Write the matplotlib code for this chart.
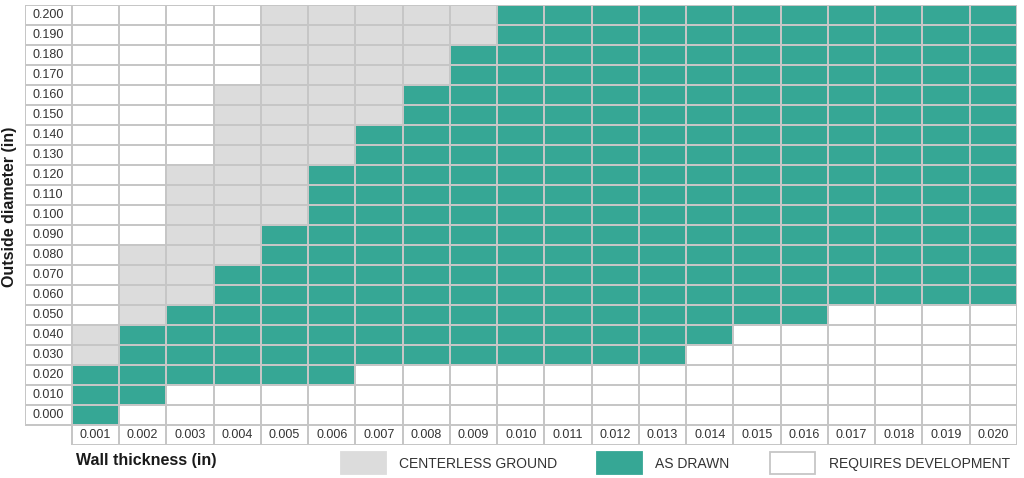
import numpy as np
import matplotlib
matplotlib.use("Agg")
import matplotlib.pyplot as plt
from matplotlib.colors import ListedColormap
from matplotlib.patches import Rectangle

plt.rcParams['font.family'] = ['Liberation Sans', 'DejaVu Sans']

# ---- data ----
wall_thickness = ["0.001", "0.002", "0.003", "0.004", "0.005", "0.006", "0.007",
                  "0.008", "0.009", "0.010", "0.011", "0.012", "0.013", "0.014",
                  "0.015", "0.016", "0.017", "0.018", "0.019", "0.020"]
outside_diameter = ["0.000", "0.010", "0.020", "0.030", "0.040", "0.050", "0.060",
                    "0.070", "0.080", "0.090", "0.100", "0.110", "0.120", "0.130",
                    "0.140", "0.150", "0.160", "0.170", "0.180", "0.190", "0.200"]
# per wall thickness: OD range produced as drawn, and top of centerless ground range
as_drawn_min_od = [0.000, 0.010, 0.020, 0.020, 0.020, 0.020, 0.030, 0.030, 0.030, 0.030,
                   0.030, 0.030, 0.030, 0.040, 0.050, 0.050, 0.060, 0.060, 0.060, 0.060]
as_drawn_max_od = [0.020, 0.040, 0.050, 0.070, 0.090, 0.120, 0.140, 0.160, 0.180, 0.200,
                   0.200, 0.200, 0.200, 0.200, 0.200, 0.200, 0.200, 0.200, 0.200, 0.200]
centerless_max_od = [0.040, 0.080, 0.120, 0.160, 0.200, 0.200, 0.200, 0.200, 0.200, 0.200,
                     0.200, 0.200, 0.200, 0.200, 0.200, 0.200, 0.200, 0.200, 0.200, 0.200]
categories = ["REQUIRES DEVELOPMENT", "CENTERLESS GROUND", "AS DRAWN"]
colors = ["#ffffff", "#dcdcdc", "#36a795"]
edge_color = "#c6c6c6"

# ---- build grid: 0 = requires development, 1 = centerless, 2 = as drawn ----
od_vals = np.array([float(v) for v in outside_diameter])
nc, nr = len(wall_thickness), len(outside_diameter)
grid = np.zeros((nr, nc), dtype=int)
for j in range(nc):
    for i, od in enumerate(od_vals):
        if as_drawn_min_od[j] - 1e-9 <= od <= as_drawn_max_od[j] + 1e-9:
            grid[i, j] = 2
        elif as_drawn_max_od[j] + 1e-9 < od <= centerless_max_od[j] + 1e-9:
            grid[i, j] = 1

W, H = 1024, 478
fig = plt.figure(figsize=(W / 100, H / 100), dpi=100)
left_px, right_px, top_px, bot_px = 24.5, 1017, 5, 445
ax = fig.add_axes([left_px / W, (H - bot_px) / H, (right_px - left_px) / W, (bot_px - top_px) / H])
ax.set_xlim(-1, nc)
ax.set_ylim(-1, nr)
ax.axis("off")

cmap = ListedColormap(colors)
xe = np.arange(nc + 1)
ye = np.arange(nr + 1)
ax.pcolormesh(xe, ye, grid, cmap=cmap, vmin=-0.5, vmax=2.5,
              edgecolors=edge_color, linewidth=1.3)

# label column and label row cells
ax.pcolormesh([-1, 0], ye, np.zeros((nr, 1)), cmap=ListedColormap(["#ffffff"]),
              edgecolors=edge_color, linewidth=1.3)
ax.pcolormesh(xe, [-1, 0], np.zeros((1, nc)), cmap=ListedColormap(["#ffffff"]),
              edgecolors=edge_color, linewidth=1.3)

for i, lab in enumerate(outside_diameter):
    ax.text(-0.5, i + 0.5, lab, ha="center", va="center", fontsize=9, color="#333333")
for j, lab in enumerate(wall_thickness):
    ax.text(j + 0.5, -0.5, lab, ha="center", va="center", fontsize=9, color="#333333")

# axis titles
fig.text(10 / W, 1 - 207 / H, "Outside diameter (in)", rotation=90, ha="center", va="center",
         fontsize=11.5, fontweight="bold", color="#1a1a1a")
fig.text(76 / W, 1 - 460 / H, "Wall thickness (in)", ha="left", va="center",
         fontsize=11.5, fontweight="bold", color="#1a1a1a")

# legend
legend_items = [("CENTERLESS GROUND", colors[1], 340.5, 399),
                ("AS DRAWN", colors[2], 597, 655),
                ("REQUIRES DEVELOPMENT", colors[0], 769.5, 829)]
for label, col, bx, tx in legend_items:
    rect = Rectangle((bx / W, 1 - 474 / H), 45 / W, 22 / H, transform=fig.transFigure,
                     facecolor=col, edgecolor=edge_color if col == "#ffffff" else col,
                     linewidth=1.3)
    fig.patches.append(rect)
    fig.text(tx / W, 1 - 464 / H, label, ha="left", va="center", fontsize=10, color="#333333")

fig.savefig("out.png", dpi=100, facecolor="white")
